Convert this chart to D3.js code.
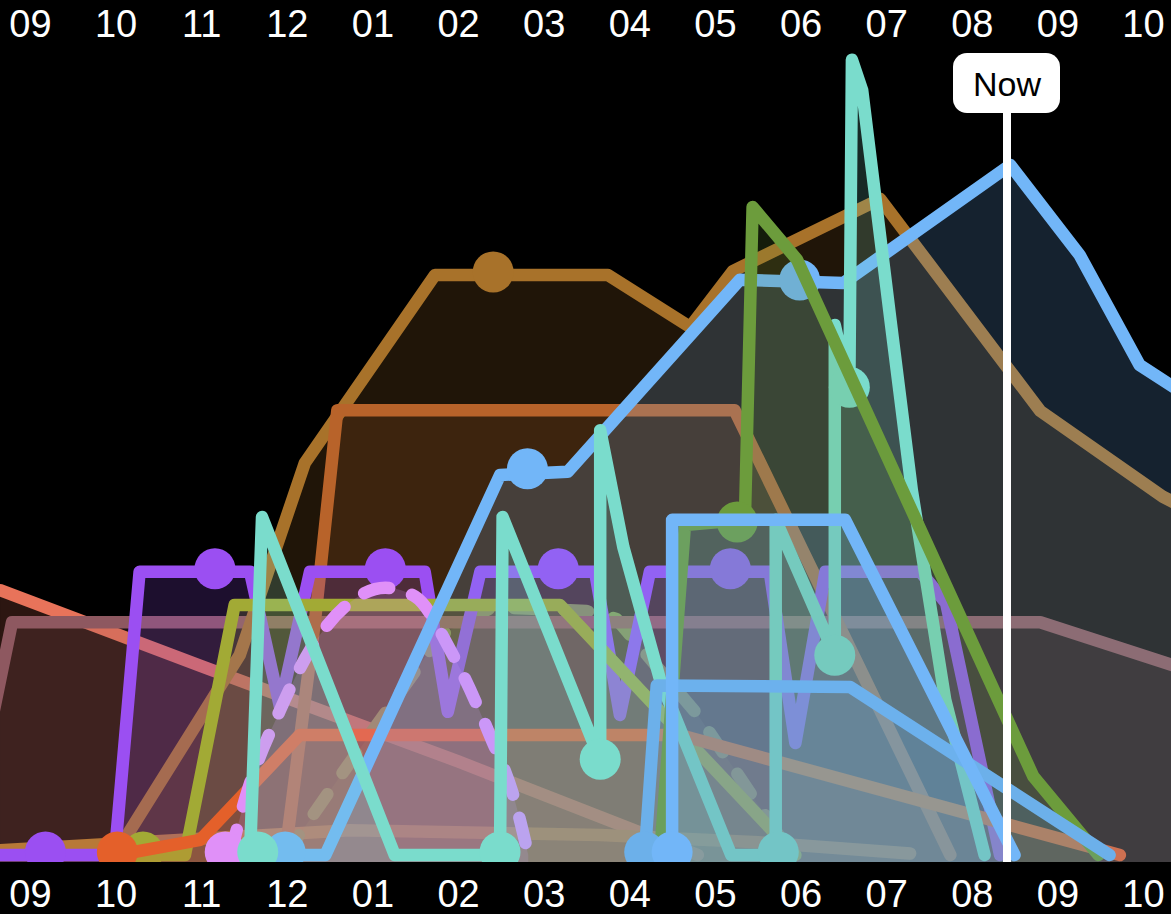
<!DOCTYPE html>
<html>
<head>
<meta charset="utf-8">
<script src="https://cdn.jsdelivr.net/npm/d3@7"></script>
<style>
html,body{margin:0;padding:0;background:#000;}
svg{display:block;}
</style>
</head>
<body>
<svg id="chart" width="1171" height="914"></svg>
<script>
// ---------- DATA ----------
const monthLabels = ["09","10","11","12","01","02","03","04","05","06","07","08","09","10"];
const nowMonth = 11.41;
const nowLabel = "Now";

// each series: [monthIndex, value]
const salmonSeries   = [[-0.35,33.1],[2.0,23.6],[5.0,11.7],[7.8,0]];
const goldSeries     = [[-0.5,0.5],[3.74,3.1],[6.66,2.5],[8.5,1.6],[10.28,0.2]];
const mauveSeries    = [[-0.5,14],[-0.21,29.1],[11.80,29.1],[13.5,23.2]];
const brownSeries    = [[0.99,0],[2.45,25],[3.21,49],[4.73,72.5],[6.75,72.5],[7.71,66],[8.21,73],[9.93,82],[11.80,55.5],[13.23,44.8],[13.5,43.3]];
const rustSeries     = [[2.98,0],[3.33,29.4],[3.59,55.6],[8.23,55.6],[10.75,0]];
const orangeSeries   = [[1.02,0],[1.99,1.9],[3.15,15],[7.59,15],[12.73,0]];
const purpleSeries   = [[-0.5,0],[0.99,0],[1.28,35.4],[2.57,35.4],[2.92,18.5],[3.27,35.4],[4.61,35.4],[4.88,17.9],[5.26,35.4],[6.60,35.4],[6.89,17.5],[7.24,35.4],[8.64,35.4],[8.94,14],[9.29,35.4],[10.40,35.4],[10.7,31.5],[11.33,0]];
const oliveSeries    = [[1.0,0],[1.81,0],[2.39,31.25],[6.19,31.25],[8.94,0]];
const greenDashSeries= [[2.98,0],[3.5,8],[4.8,27.5],[5.4,31],[6.5,30.5],[6.85,29.5],[7.8,17.5],[8.9,0]];
const pinkSeries     = [[2.34,0],[2.51,6.9],[2.92,18.1],[3.27,25.6],[3.74,31.6],[4.15,33.4],[4.50,32.3],[4.91,25.6],[5.37,15],[5.66,6.9],[5.82,0]];
const blueSeries     = [[2.7,0],[3.45,0],[5.49,47.5],[6.28,47.9],[8.29,71.9],[9.50,71.5],[11.45,86.25],[12.26,75],[12.96,61.25],[13.5,57.5]];
const tealSeries     = [[2.57,0],[2.71,42.25],[4.26,0],[5.49,0],[5.52,42.25],[6.66,11.9],[6.66,53.1],[6.93,38.5],[7.36,21.9],[8.19,0],[8.71,0],[8.71,41.9],[9.40,25],[9.40,66.25],[9.57,58.1],[9.60,99.4],[9.72,95.6],[10.05,66.9],[10.30,45.6],[10.69,19.4],[11.15,0]];
const greenSeries    = [[7.36,0],[7.65,41.25],[8.35,41.9],[8.44,81],[8.96,74.4],[11.72,9.8],[12.48,0]];
const lightBlueSeries= [[7.18,0],[7.32,21.2],[9.58,21],[12.61,0]];
const skyBlueSeries  = [[7.5,0],[7.5,41.9],[9.52,41.9],[11.5,0]];

// markers
const purpleDots = [[0.18,0],[2.16,35.4],[4.15,35.4],[6.17,35.4],[8.18,35.4]];
const brownDots  = [[5.41,72.5]];
const orangeDots = [[1.02,0]];
const oliveDots  = [[1.32,0]];
const pinkDots   = [[2.28,0]];
const blueDots   = [[2.98,0],[5.81,47.9],[8.99,71.5]];
const tealDots   = [[2.66,0],[5.49,0],[6.66,11.6],[8.74,0],[9.40,24.6],[9.57,58.1]];
const greenDots  = [[7.45,0],[8.26,41.25]];
const lightBlueDots = [[7.18,0]];
const skyBlueDots   = [[7.5,0]];

// ---------- STYLE ----------
const seriesTable = [
  {data: salmonSeries,    dots: [],           color:"#e8735a"},
  {data: goldSeries,      dots: [],           color:"#c2802e"},
  {data: greenDashSeries, dots: [],           color:"#78b048", dash:"24 26"},
  {data: mauveSeries,     dots: [],           color:"#8e5860"},
  {data: brownSeries,     dots: brownDots,    color:"#a8722a"},
  {data: rustSeries,      dots: [],           color:"#b8632a"},
  {data: purpleSeries,    dots: purpleDots,   color:"#9b4ff2"},
  {data: oliveSeries,     dots: oliveDots,    color:"#a2aa35"},
  {data: orangeSeries,    dots: orangeDots,   color:"#e4602a"},
  {data: pinkSeries,      dots: pinkDots,     color:"#e090f8", dash:"26 24", curve:true},
  {data: blueSeries,      dots: blueDots,     color:"#72b6f8"},
  {data: tealSeries,      dots: tealDots,     color:"#7adccc"},
  {data: greenSeries,     dots: greenDots,    color:"#6c9c3c"},
  {data: lightBlueSeries, dots: lightBlueDots,color:"#6cb0ea"},
  {data: skyBlueSeries,   dots: skyBlueDots,  color:"#72b6f8"}
];

const W = 1171, H = 914, plotBottom = 862;
const svg = d3.select("#chart");
svg.append("rect").attr("width",W).attr("height",H).attr("fill","#000");

const x = d3.scaleLinear().domain([0,13]).range([30,1143]);
const y = d3.scaleLinear().domain([0,100]).range([855,55]);

svg.append("defs").append("clipPath").attr("id","plotClip")
  .append("rect").attr("x",0).attr("y",0).attr("width",W).attr("height",plotBottom);

const plot = svg.append("g").attr("clip-path","url(#plotClip)");

seriesTable.forEach(s => {
  const curve = s.curve ? d3.curveMonotoneX : d3.curveLinear;
  const area = d3.area().x(d=>x(d[0])).y0(plotBottom).y1(d=>y(d[1])).curve(curve);
  const line = d3.line().x(d=>x(d[0])).y(d=>y(d[1])).curve(curve);
  const g = plot.append("g");
  g.append("path").attr("d", area(s.data)).attr("fill", s.color).attr("fill-opacity", 0.19);
  g.append("path").attr("d", line(s.data)).attr("fill","none").attr("stroke", s.color)
    .attr("stroke-width", 12.5).attr("stroke-linecap","round").attr("stroke-linejoin","round")
    .attr("stroke-dasharray", s.dash || null);
  g.selectAll("circle").data(s.dots).join("circle")
    .attr("cx", d=>x(d[0])).attr("cy", d=>y(d[1]) - 3).attr("r", 20.5).attr("fill", s.color);
});

// Now marker
const nx = Math.round(x(nowMonth));
svg.append("line").attr("x1",nx).attr("x2",nx).attr("y1",110).attr("y2",plotBottom)
  .attr("stroke","#fff").attr("stroke-width",8);
svg.append("rect").attr("x",nx-54).attr("y",53).attr("width",107).attr("height",60)
  .attr("rx",14).attr("fill","#fff");
svg.append("text").attr("x",nx).attr("y",96).attr("text-anchor","middle")
  .attr("font-family","'Liberation Sans', Arial, sans-serif").attr("font-size",34)
  .attr("fill","#000").text(nowLabel);

// axes
const fmt = i => monthLabels[i];
const topAxis = d3.axisTop(x).tickValues(d3.range(monthLabels.length)).tickFormat(fmt).tickSize(0).tickPadding(0);
const botAxis = d3.axisBottom(x).tickValues(d3.range(monthLabels.length)).tickFormat(fmt).tickSize(0).tickPadding(0);
function styleAxis(g){
  g.select(".domain").remove();
  g.selectAll("text").attr("fill","#fff").attr("font-size",38)
   .attr("font-family","'Liberation Sans', Arial, sans-serif");
}
svg.append("g").attr("transform","translate(0,37)").call(topAxis).call(styleAxis);
svg.append("g").attr("transform","translate(0,880)").call(botAxis).call(styleAxis);
</script>
</body>
</html>
